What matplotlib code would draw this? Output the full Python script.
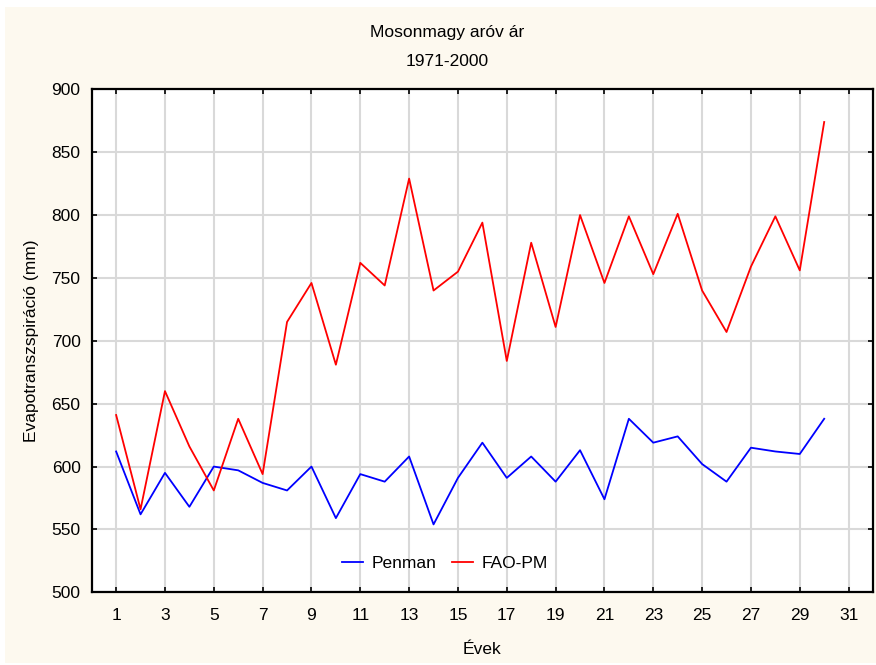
import matplotlib
matplotlib.use("Agg")
import matplotlib.pyplot as plt
from matplotlib.patches import Rectangle

# evek (1971-2000 -> 1..30)
years = list(range(1, 31))

penman = [612, 562, 595, 568, 600, 597, 587, 581, 600, 559,
          594, 588, 608, 554, 591, 619, 591, 608, 588, 613,
          574, 638, 619, 624, 602, 588, 615, 612, 610, 638]

fao_pm = [641, 566, 660, 616, 581, 638, 594, 715, 746, 681,
          762, 744, 829, 740, 755, 794, 684, 778, 711, 800,
          746, 799, 753, 801, 740, 707, 759, 799, 756, 874]

xticks = list(range(1, 32, 2))
yticks = list(range(500, 901, 50))

plt.rcParams['font.family'] = ['Liberation Sans', 'DejaVu Sans']
fs = 12.5

fig = plt.figure(figsize=(8.76, 6.65), dpi=100)
fig.patch.set_facecolor('white')
# kremszinu hatter
bg = Rectangle((5 / 876, 2 / 665), 1 - 5 / 876, 1 - 9 / 665,
               transform=fig.transFigure, facecolor='#fdf9ef',
               edgecolor='none', zorder=-10)
fig.add_artist(bg)

ax = fig.add_axes([0.1047, 0.1093, 0.8919, 0.7564])
ax.set_zorder(5)
ax.set_facecolor('white')

ax.plot(years, penman, color='#0000ff', lw=1.3, label='Penman', zorder=3)
ax.plot(years, fao_pm, color='#ff0000', lw=1.3, label='FAO-PM', zorder=3)

ax.set_xlim(0, 32)
ax.set_ylim(500, 900)
ax.set_xticks(xticks)
ax.set_yticks(yticks)
ax.grid(True, color='#d9d9d9', lw=1.5, zorder=1)

for s in ax.spines.values():
    s.set_linewidth(1.6)
    s.set_color('black')

ax.tick_params(axis='both', direction='in', length=3.5, width=1.2,
               top=True, right=True, labelsize=fs)
ax.tick_params(axis='x', pad=11)
ax.tick_params(axis='y', pad=8)

ax.set_xlabel('Évek', fontsize=fs, labelpad=14)
ax.set_ylabel('Evapotranszspiráció (mm)', fontsize=fs, labelpad=9)

fig.text(447 / 876, 1 - 32 / 665, 'Mosonmagy aróv ár', ha='center', va='center', fontsize=fs)
fig.text(447 / 876, 1 - 62 / 665, '1971-2000', ha='center', va='center', fontsize=fs)

leg = ax.legend(loc='center', bbox_to_anchor=(0.452, 0.058), ncol=2, frameon=False,
                fontsize=fs, handlelength=1.2, handletextpad=0.5, columnspacing=0.9)

fig.savefig('out.png', dpi=100, facecolor=fig.get_facecolor())
